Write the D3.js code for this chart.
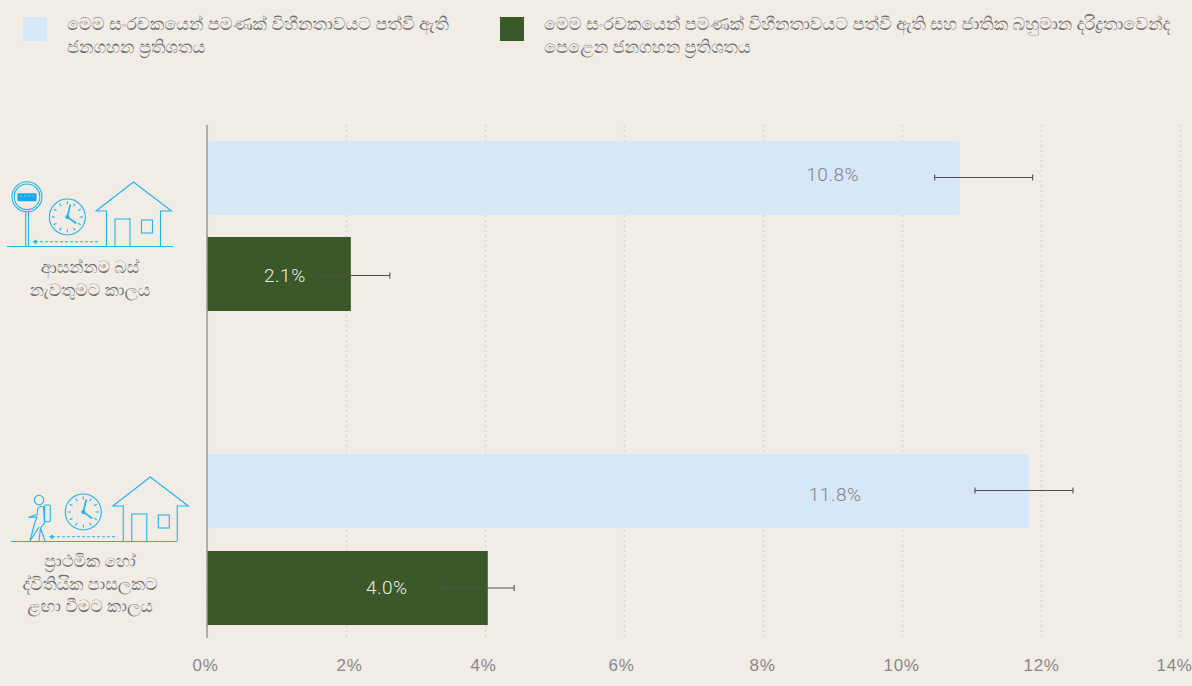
<!DOCTYPE html>
<html>
<head>
<meta charset="utf-8">
<script src="https://cdn.jsdelivr.net/npm/d3@7"></script>
<style>
  html, body { margin: 0; padding: 0; background: #f1ece6; overflow: hidden; }
  svg { display: block; font-family: Roboto, "Noto Sans", sans-serif; }
  .si { text-rendering: geometricPrecision; }
</style>
</head>
<body>
<svg id="chart" width="1192" height="686"></svg>
<script>
const categories = ['bus', 'school']
const seriesNames = ['all', 'poor']
const seriesLabels = [
  ['මෙම සංරචකයෙන් පමණක් විහීනතාවයට පත්වී ඇති', 'ජනගහන ප්‍රතිශතය'],
  ['මෙම සංරචකයෙන් පමණක් විහීනතාවයට පත්වී ඇති සහ ජාතික බහුමාන දරිද්‍රතාවෙන්ද', 'පෙළෙන ජනගහන ප්‍රතිශතය']
]
const categoryLabels = [
  ['ආසන්නම බස්', 'නැවතුමට කාලය'],
  ['ප්‍රාථමික හෝ', 'ද්විතියික පාසලකට', 'ළඟා වීමට කාලය']
]
const allValues = [10.83, 11.83]
const poorValues = [2.07, 4.04]
const allLow = [10.47, 11.05]
const allHigh = [11.88, 12.46]
const poorLow = [1.58, 3.37]
const poorHigh = [2.63, 4.42]
const allText = ['10.8%', '11.8%']
const poorText = ['2.1%', '4.0%']
const tickValues = [0, 2, 4, 6, 8, 10, 12, 14]

const colors = { all: '#d6e7f7', poor: '#3b5828' }
const iconBlue = '#1fb4ec'

const svg = d3.select('#chart')

const x = d3.scaleLinear().domain([0, 14]).range([207, 1180])
const y = d3.scaleBand().domain(categories).range([141, 624.6]).paddingInner(0.456)
const y2 = d3.scaleBand().domain(seriesNames).range([0, y.bandwidth()]).paddingInner(0.233)

// the labels do not sit at a fixed place in the reference, so nudge them
const tickNudge = [-2, 3, -2, -3, -1, -1, 0, -6]
const labelNudge = { bus: { all: [-127, -3], poor: [-66, 2] }, school: { all: [-194, 4], poor: [-101, 0] } }
const errNudge = { bus: { all: 0, poor: 2 }, school: { all: 0, poor: 0.5 } }

// gridlines
const xAxis = d3.axisBottom(x)
  .tickValues(tickValues)
  .tickSize(638 - 125)
  .tickFormat(d => d + '%')

const axis = svg.append('g')
  .attr('transform', 'translate(0, 125)')
  .call(xAxis)
axis.select('.domain').remove()
axis.selectAll('.tick line')
  .attr('stroke', '#d9d5d0')
  .attr('stroke-width', 1.5)
  .attr('stroke-dasharray', '2 3')
axis.selectAll('.tick text')
  .attr('y', 541)
  .attr('dy', '0.32em')
  .attr('dx', (d, i) => tickNudge[i])
  .attr('fill', '#8a8886')
  .attr('font-size', 17)
  .attr('font-weight', 300)
  .style('letter-spacing', '0.6px')

// bars
const rows = categories.map((c, i) => [
  { cat: c, s: 'all', v: allValues[i], lo: allLow[i], hi: allHigh[i], t: allText[i] },
  { cat: c, s: 'poor', v: poorValues[i], lo: poorLow[i], hi: poorHigh[i], t: poorText[i] }
]).flat()

const barY = d => Math.round(y(d.cat) + y2(d.s))
const midY = d => barY(d) + y2.bandwidth() / 2

svg.append('g').selectAll('rect')
  .data(rows)
  .enter()
  .append('rect')
  .attr('x', x(0))
  .attr('y', barY)
  .attr('width', d => x(d.v) - x(0))
  .attr('height', Math.round(y2.bandwidth()))
  .attr('fill', d => colors[d.s])

// axis line on top of the bars
svg.append('line')
  .attr('x1', x(0)).attr('x2', x(0))
  .attr('y1', 125).attr('y2', 638)
  .attr('stroke', '#9c9a96')
  .attr('stroke-width', 1.5)

// error bars
const err = svg.append('g').attr('stroke', '#505050').attr('stroke-width', 1.1)
rows.forEach(d => {
  const m = Math.round(midY(d)) - 0.5 + errNudge[d.cat][d.s]
  err.append('line').attr('x1', x(d.lo)).attr('x2', x(d.hi)).attr('y1', m).attr('y2', m)
  err.append('line').attr('x1', x(d.lo)).attr('x2', x(d.lo)).attr('y1', m - 3).attr('y2', m + 3)
  err.append('line').attr('x1', x(d.hi)).attr('x2', x(d.hi)).attr('y1', m - 3).attr('y2', m + 3)
})

// value labels
svg.append('g').selectAll('text')
  .data(rows)
  .enter()
  .append('text')
  .attr('x', d => x(d.v) + labelNudge[d.cat][d.s][0])
  .attr('y', d => midY(d) + labelNudge[d.cat][d.s][1])
  .attr('dy', '0.32em')
  .attr('text-anchor', 'middle')
  .attr('font-size', 19)
  .attr('font-weight', 300)
  .style('letter-spacing', '0.5px')
  .attr('fill', d => d.s === 'poor' ? '#f1ece6' : '#808488')
  .text(d => d.t)

// legend
const legend = svg.append('g')
seriesNames.forEach((s, i) => {
  const lx = [23, 500][i]
  legend.append('rect')
    .attr('x', lx).attr('y', 17)
    .attr('width', 24).attr('height', 24)
    .attr('fill', colors[s])
  seriesLabels[i].forEach((line, j) => {
    legend.append('text')
      .attr('class', 'si')
      .attr('x', lx + 44).attr('y', 30 + j * 23)
      .attr('font-size', 17.75)
      .attr('fill', '#707070')
      .text(line)
  })
})

// category labels
categories.forEach((c, i) => {
  const cy = [273, 567][i]
  const cx = [90, 90][i]
  categoryLabels[i].forEach((line, j) => {
    svg.append('text')
      .attr('class', 'si')
      .attr('x', cx).attr('y', cy + j * 22.5)
      .attr('text-anchor', 'middle')
      .attr('font-size', 17.4)
      .attr('fill', '#707070')
      .text(line)
  })
})

// little blue icons, drawn in local coordinates
function clock(g, cx, cy, r) {
  g.append('circle').attr('cx', cx).attr('cy', cy).attr('r', r)
  d3.range(12).forEach(h => {
    const a = h * Math.PI / 6
    g.append('line')
      .attr('x1', cx + Math.sin(a) * (r - 2.5)).attr('y1', cy - Math.cos(a) * (r - 2.5))
      .attr('x2', cx + Math.sin(a) * (r - 5.5)).attr('y2', cy - Math.cos(a) * (r - 5.5))
  })
  g.append('path').attr('stroke-width', 1.6)
    .attr('d', `M${cx + 3},${cy - 12.5} L${cx},${cy} L${cx + 9},${cy + 6.5}`)
  g.append('circle').attr('cx', cx).attr('cy', cy).attr('r', 1.5).attr('fill', iconBlue)
}

function house(g, ox, oy) {
  g.append('path').attr('d',
    `M${ox},${oy + 64} V${oy + 29} H${ox - 10.5} L${ox + 27},${oy} L${ox + 65},${oy + 29} H${ox + 54} V${oy + 64}`)
  g.append('path').attr('d', `M${ox + 8.5},${oy + 64} V${oy + 37} H${ox + 23.5} V${oy + 64}`)
  g.append('rect').attr('x', ox + 35).attr('y', oy + 38).attr('width', 11).attr('height', 13)
}

const icon1 = svg.append('g').attr('fill', 'none').attr('stroke', iconBlue).attr('stroke-width', 1.1)
icon1.append('line').attr('x1', 7).attr('x2', 173).attr('y1', 246.5).attr('y2', 246.5)
icon1.append('circle').attr('cx', 27).attr('cy', 196.8).attr('r', 15)
icon1.append('circle').attr('cx', 27).attr('cy', 196.8).attr('r', 12.8)
icon1.append('path').attr('d', 'M25.7,212 V246 M28.5,212 V246')
icon1.append('rect').attr('x', 17.5).attr('y', 193.3).attr('width', 19).attr('height', 8).attr('rx', 1)
  .attr('fill', '#12aaea').attr('stroke', 'none')
icon1.append('path').attr('d', 'M21,195 V197 M25,195 V197 M29,195 V197 M33,195 V197')
  .attr('stroke', '#f1ece6').attr('stroke-width', 1).attr('stroke-opacity', 0.5)
clock(icon1, 67.3, 217, 18)
house(icon1, 106.5, 182)
icon1.append('path').attr('d', 'M35,241.7 H100').attr('stroke-dasharray', '3 2')
icon1.append('path').attr('d', 'M36.5,240 L33.5,241.7 L36.5,243.4').attr('fill', iconBlue)

const icon2 = svg.append('g').attr('fill', 'none').attr('stroke', iconBlue).attr('stroke-width', 1.1)
icon2.append('line').attr('x1', 11).attr('x2', 177).attr('y1', 541.5).attr('y2', 541.5)
clock(icon2, 83.3, 512, 18)
house(icon2, 123.3, 477)
icon2.append('path').attr('d', 'M52,536.7 H116').attr('stroke-dasharray', '3 2')
icon2.append('path').attr('d', 'M53,535 L50,536.7 L53,538.4').attr('fill', iconBlue)
icon2.append('circle').attr('cx', 39).attr('cy', 500).attr('r', 4.7)
icon2.append('path').attr('d', 'M30,541 L35,522 L37,517 L28.5,517.5 L37,514.5 L38,508 Q40,505.5 43.5,507 L44.5,523 L40.5,528 L45,541 M39,541 L40.5,528 M30,541 L39,527')
icon2.append('rect').attr('x', 44.7).attr('y', 505).attr('width', 5.6).attr('height', 16.7).attr('rx', 1.5)
</script>
</body>
</html>
